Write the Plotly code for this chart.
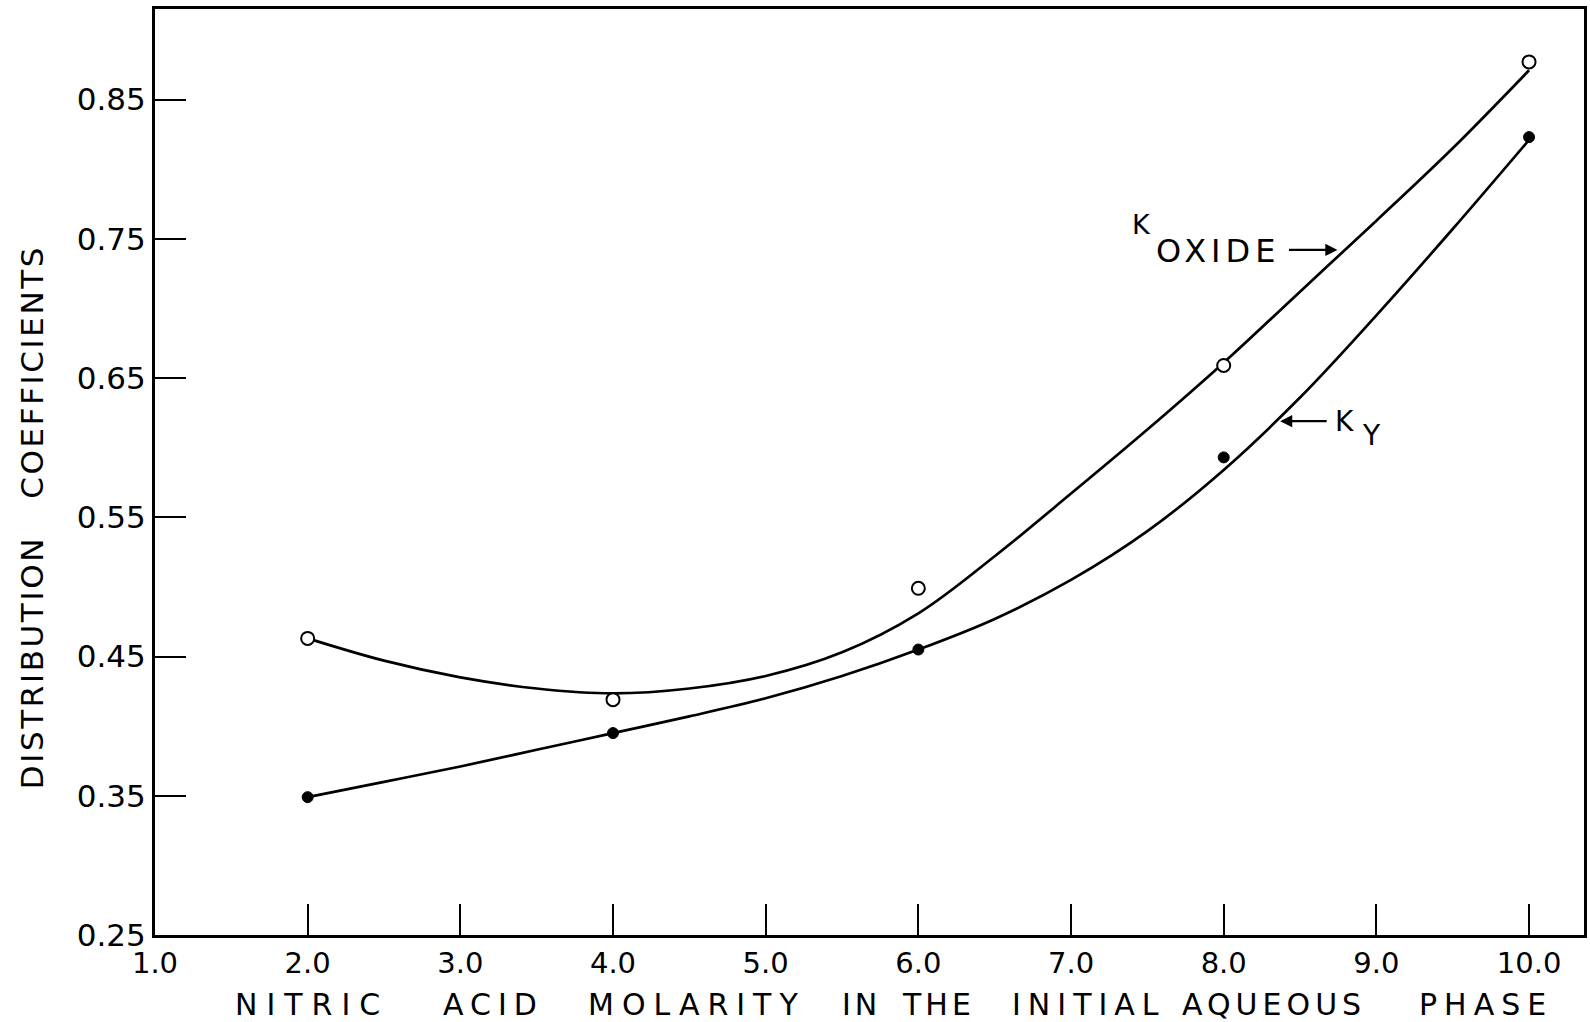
import plotly.graph_objects as go

# Measured distribution coefficients vs. initial HNO3 molarity
molarity = [2.0, 4.0, 6.0, 8.0, 10.0]
k_oxide = [0.463, 0.419, 0.499, 0.659, 0.877]
k_y = [0.349, 0.395, 0.455, 0.593, 0.823]

# Hand-drawn smoothing curves through the data, read at half-molar steps
curve_x = [2.0, 2.5, 3.0, 3.5, 4.0, 4.5, 5.0, 5.5, 6.0, 6.5, 7.0, 7.5, 8.0, 8.5, 9.0, 9.5, 10.0]
curve_oxide = [0.463, 0.447, 0.435, 0.427, 0.4235, 0.427, 0.436, 0.453, 0.481, 0.522, 0.567,
               0.613, 0.661, 0.712, 0.763, 0.815, 0.871]
curve_y = [0.349, 0.360, 0.371, 0.383, 0.395, 0.407, 0.420, 0.436, 0.455, 0.477, 0.505,
           0.540, 0.584, 0.636, 0.695, 0.757, 0.821]

x_ticks = [1, 2, 3, 4, 5, 6, 7, 8, 9, 10]
x_tick_text = ["1.0", "2.0", "3.0", "4.0", "5.0", "6.0", "7.0", "8.0", "9.0", "10.0"]
y_ticks = [0.25, 0.35, 0.45, 0.55, 0.65, 0.75, 0.85]
y_tick_text = ["0.25", "0.35", "0.45", "0.55", "0.65", "0.75", "0.85"]

x_title_words = ["NITRIC", "ACID", "MOLARITY", "IN", "THE", "INITIAL", "AQUEOUS", "PHASE"]
x_title_pos = [2.03, 3.22, 4.55, 5.63, 6.13, 7.12, 8.33, 9.72]
x_title_spacing = [9, 7, 8, 4, 4, 7, 5, 7]

FONT = "DejaVu Sans"
INK = "black"

fig = go.Figure()

curve_line = dict(color=INK, width=2.7, shape="spline", smoothing=1.0)
fig.add_trace(go.Scatter(x=curve_x, y=curve_oxide, mode="lines", line=curve_line,
                         hoverinfo="skip", showlegend=False))
fig.add_trace(go.Scatter(x=curve_x, y=curve_y, mode="lines", line=curve_line,
                         hoverinfo="skip", showlegend=False))
fig.add_trace(go.Scatter(x=molarity, y=k_oxide, mode="markers", name="K oxide",
                         marker=dict(symbol="circle", size=13, color="white",
                                     line=dict(color=INK, width=2)),
                         showlegend=False))
fig.add_trace(go.Scatter(x=molarity, y=k_y, mode="markers", name="K Y",
                         marker=dict(symbol="circle", size=11, color=INK,
                                     line=dict(color=INK, width=1)),
                         showlegend=False))

annotations = []
# x-axis title, word by word with wide lettering
for word, xpos, sp in zip(x_title_words, x_title_pos, x_title_spacing):
    annotations.append(dict(
        x=xpos, y=-0.075, xref="x", yref="paper", xanchor="center", yanchor="middle",
        text=f'<span style="letter-spacing:{sp}px">{word}</span>',
        showarrow=False, font=dict(family=FONT, size=30, color=INK)))

# y-axis title
annotations.append(dict(
    x=-0.0855, y=0.451, xref="paper", yref="paper", xanchor="center", yanchor="middle",
    text='<span style="letter-spacing:2.6px">DISTRIBUTION   COEFFICIENTS</span>',
    textangle=-90, showarrow=False, font=dict(family=FONT, size=31, color=INK)))

# curve labels
annotations.append(dict(x=7.46, y=0.760, xref="x", yref="y", text="K", showarrow=False,
                        font=dict(family=FONT, size=27, color=INK)))
annotations.append(dict(x=7.96, y=0.741, xref="x", yref="y",
                        text='<span style="letter-spacing:5px">OXIDE</span>',
                        showarrow=False, font=dict(family=FONT, size=32, color=INK)))
annotations.append(dict(x=8.745, y=0.742, xref="x", yref="y", text="", showarrow=True,
                        ax=-50, ay=0, arrowhead=2, arrowsize=1.1, arrowwidth=2.2,
                        arrowcolor=INK))
annotations.append(dict(x=8.79, y=0.619, xref="x", yref="y", text="K", showarrow=False,
                        font=dict(family=FONT, size=28, color=INK)))
annotations.append(dict(x=8.97, y=0.609, xref="x", yref="y", text="Y", showarrow=False,
                        font=dict(family=FONT, size=28, color=INK)))
annotations.append(dict(x=8.37, y=0.619, xref="x", yref="y", text="", showarrow=True,
                        ax=48, ay=0, arrowhead=2, arrowsize=1.1, arrowwidth=2.2,
                        arrowcolor=INK))

fig.update_layout(
    width=1590, height=1022,
    margin=dict(l=155, r=3, t=9, b=87),
    paper_bgcolor="white", plot_bgcolor="white",
    font=dict(family=FONT, color=INK),
    annotations=annotations,
    xaxis=dict(range=[1.0, 10.36], tickmode="array", tickvals=x_ticks, ticktext=x_tick_text,
               ticks="inside", ticklen=31, tickwidth=2, tickcolor=INK,
               showline=True, linewidth=3, linecolor=INK, mirror=True,
               showgrid=False, zeroline=False,
               tickfont=dict(family=FONT, size=29, color=INK)),
    yaxis=dict(range=[0.25, 0.915], tickmode="array", tickvals=y_ticks, ticktext=y_tick_text,
               ticks="inside", ticklen=31, tickwidth=2, tickcolor=INK,
               showline=True, linewidth=3, linecolor=INK, mirror=True,
               showgrid=False, zeroline=False,
               tickfont=dict(family=FONT, size=31, color=INK)),
)

fig.write_html("out.html")
